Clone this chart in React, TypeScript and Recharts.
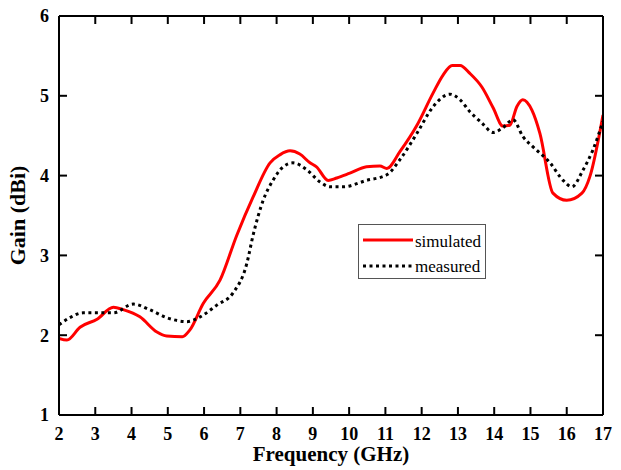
import React from "react";
import { LineChart, Line, XAxis, YAxis } from "recharts";

const freqSim = [2.0, 2.22, 2.58, 3.05, 3.5, 3.77, 4.23, 4.7, 4.97, 5.4, 5.6, 5.98, 6.44, 6.9, 7.35, 7.82, 8.09, 8.37, 8.64, 8.92, 9.1, 9.42, 9.66, 10.02, 10.48, 10.85, 11.04, 11.4, 11.87, 12.31, 12.59, 12.84, 13.06, 13.33, 13.66, 13.97, 14.24, 14.43, 14.63, 14.79, 15.04, 15.26, 15.62, 16.0, 16.42, 16.64, 17.0];
const gainSim = [1.96, 1.94, 2.10, 2.20, 2.35, 2.32, 2.23, 2.04, 1.99, 1.98, 2.06, 2.40, 2.69, 3.25, 3.73, 4.16, 4.26, 4.31, 4.27, 4.16, 4.11, 3.94, 3.97, 4.03, 4.11, 4.12, 4.09, 4.30, 4.63, 5.03, 5.26, 5.38, 5.38, 5.28, 5.11, 4.85, 4.62, 4.63, 4.87, 4.95, 4.82, 4.53, 3.78, 3.69, 3.78, 3.99, 4.76];

const freqMeas = [2.0, 2.3, 2.66, 3.13, 3.5, 4.05, 4.5, 4.97, 5.53, 5.89, 6.36, 6.8, 7.18, 7.35, 7.63, 7.9, 8.18, 8.45, 8.84, 9.2, 9.47, 9.84, 10.48, 11.04, 11.4, 11.87, 12.31, 12.78, 13.06, 13.33, 13.66, 13.97, 14.24, 14.52, 14.79, 15.07, 15.54, 15.9, 16.14, 16.45, 16.72, 17.0];
const gainMeas = [2.13, 2.22, 2.28, 2.28, 2.28, 2.39, 2.32, 2.22, 2.17, 2.23, 2.38, 2.53, 2.90, 3.25, 3.69, 3.94, 4.11, 4.16, 4.07, 3.92, 3.86, 3.86, 3.94, 4.01, 4.2, 4.53, 4.86, 5.02, 4.95, 4.8, 4.66, 4.54, 4.6, 4.7, 4.49, 4.36, 4.16, 3.94, 3.86, 4.07, 4.32, 4.68];

const xTicks = [2, 3, 4, 5, 6, 7, 8, 9, 10, 11, 12, 13, 14, 15, 16, 17];
const yTicks = [1, 2, 3, 4, 5, 6];

const X_MIN = 2;
const X_MAX = 17;
const Y_MIN = 1;
const Y_MAX = 6;

const W = 621;
const H = 470;
// plot-area geometry (also drives the chart margins / axis sizes)
const PLOT_LEFT = 59;
const PLOT_TOP = 16;
const PLOT_RIGHT = 603;
const PLOT_BOTTOM = 415;
const TICK_LEN = 8;

const simData = freqSim.map((f, i) => ({ f, g: gainSim[i] }));
const measData = freqMeas.map((f, i) => ({ f, g: gainMeas[i] }));

const FONT = "'Liberation Serif', 'Times New Roman', serif";
const axisLine = { stroke: "#000", strokeWidth: 2 };
const tickStyle = { fill: "#000", fontFamily: FONT, fontWeight: 700, fontSize: 18 };

const sx = (v: number) => PLOT_LEFT + ((v - X_MIN) / (X_MAX - X_MIN)) * (PLOT_RIGHT - PLOT_LEFT);
const sy = (v: number) => PLOT_BOTTOM - ((v - Y_MIN) / (Y_MAX - Y_MIN)) * (PLOT_BOTTOM - PLOT_TOP);

const TickOverlay = () => (
  <svg
    width={W}
    height={H}
    style={{ position: "absolute", left: 0, top: 0, pointerEvents: "none" }}
  >
    {xTicks
      .filter((v) => v > X_MIN && v < X_MAX)
      .map((v) => (
        <g key={`x${v}`}>
          <line x1={sx(v)} x2={sx(v)} y1={PLOT_BOTTOM} y2={PLOT_BOTTOM - TICK_LEN} stroke="#000" strokeWidth={2} />
          <line x1={sx(v)} x2={sx(v)} y1={PLOT_TOP} y2={PLOT_TOP + TICK_LEN} stroke="#000" strokeWidth={2} />
        </g>
      ))}
    {yTicks
      .filter((v) => v > Y_MIN && v < Y_MAX)
      .map((v) => (
        <g key={`y${v}`}>
          <line x1={PLOT_LEFT} x2={PLOT_LEFT + TICK_LEN} y1={sy(v)} y2={sy(v)} stroke="#000" strokeWidth={2} />
          <line x1={PLOT_RIGHT} x2={PLOT_RIGHT - TICK_LEN} y1={sy(v)} y2={sy(v)} stroke="#000" strokeWidth={2} />
        </g>
      ))}
  </svg>
);

const LegendBox = () => (
  <div
    style={{
      position: "absolute",
      left: 358,
      top: 224,
      width: 128,
      height: 55,
      border: "1px solid #555",
      background: "#fff",
      boxSizing: "border-box",
    }}
  >
    <svg width={126} height={53} style={{ position: "absolute", left: 0, top: 0 }}>
      <line x1={4} x2={54} y1={15} y2={15} stroke="#ff0000" strokeWidth={3} />
      <line x1={4} x2={54} y1={41} y2={41} stroke="#000" strokeWidth={3} strokeDasharray="3 3.5" />
      <text x={56} y={22} fontFamily={FONT} fontSize={17} fill="#000">simulated</text>
      <text x={56} y={47} fontFamily={FONT} fontSize={17} fill="#000">measured</text>
    </svg>
  </div>
);

export default function App() {
  return (
    <div style={{ position: "absolute", left: 0, top: 0, width: W, height: H, background: "#fff" }}>
      <LineChart
        width={W}
        height={H}
        margin={{ top: PLOT_TOP - 1, right: W - PLOT_RIGHT - 1, bottom: 0, left: 0 }}
      >
        <XAxis
          xAxisId="b"
          type="number"
          dataKey="f"
          domain={[X_MIN, X_MAX]}
          ticks={xTicks}
          interval={0}
          allowDataOverflow
          height={H - PLOT_BOTTOM}
          tickSize={0}
          tickMargin={12}
          axisLine={axisLine}
          tickLine={false}
          tick={tickStyle}
          label={{
            value: "Frequency (GHz)",
            position: "insideBottom",
            offset: 9,
            style: { fill: "#000", fontFamily: FONT, fontWeight: 700, fontSize: 21 },
          }}
        />
        <XAxis
          xAxisId="t"
          orientation="top"
          type="number"
          dataKey="f"
          domain={[X_MIN, X_MAX]}
          height={1}
          tickLine={false}
          axisLine={axisLine}
          tick={false}
        />
        <YAxis
          yAxisId="l"
          type="number"
          domain={[Y_MIN, Y_MAX]}
          ticks={yTicks}
          interval={0}
          allowDataOverflow
          width={PLOT_LEFT}
          tickSize={0}
          tickMargin={10}
          axisLine={axisLine}
          tickLine={false}
          tick={tickStyle}
          label={{
            value: "Gain (dBi)",
            angle: -90,
            position: "insideLeft",
            offset: 17,
            style: { textAnchor: "middle", fill: "#000", fontFamily: FONT, fontWeight: 700, fontSize: 22 },
          }}
        />
        <YAxis
          yAxisId="r"
          orientation="right"
          type="number"
          domain={[Y_MIN, Y_MAX]}
          width={1}
          tickLine={false}
          axisLine={axisLine}
          tick={false}
        />
        <Line
          xAxisId="b"
          yAxisId="l"
          data={simData}
          dataKey="g"
          type="monotone"
          stroke="#ff0000"
          strokeWidth={3}
          dot={false}
          isAnimationActive={false}
          name="simulated"
        />
        <Line
          xAxisId="b"
          yAxisId="l"
          data={measData}
          dataKey="g"
          type="monotone"
          stroke="#000"
          strokeWidth={3}
          strokeDasharray="3 3.5"
          dot={false}
          isAnimationActive={false}
          name="measured"
        />
      </LineChart>
      <TickOverlay />
      <LegendBox />
    </div>
  );
}
